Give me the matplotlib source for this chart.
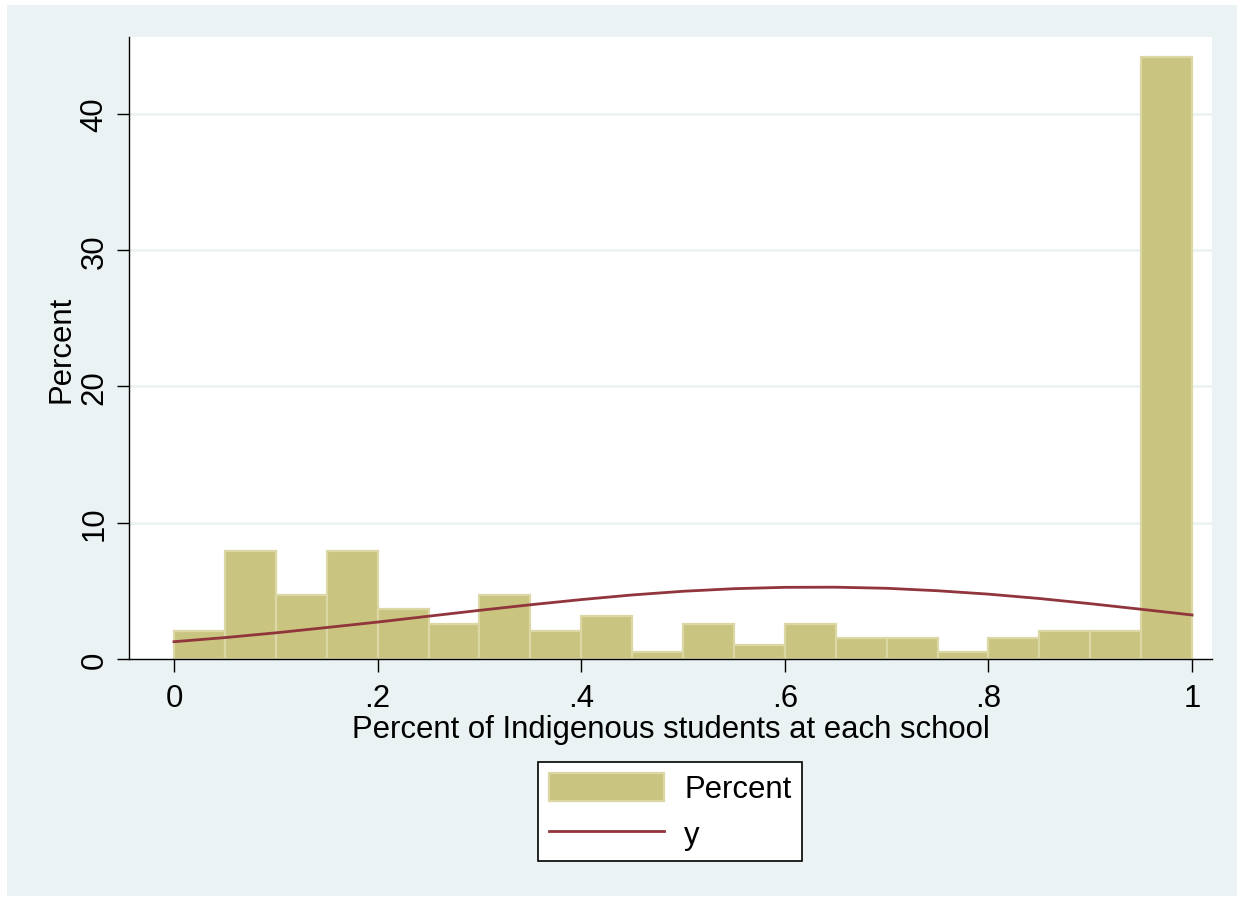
import numpy as np
import matplotlib.pyplot as plt
from matplotlib.patches import Rectangle

plt.rcParams['font.family'] = ['Liberation Sans', 'DejaVu Sans']

# histogram bins (width .05) and their percentages
bin_left = [0.00, 0.05, 0.10, 0.15, 0.20, 0.25, 0.30, 0.35, 0.40, 0.45,
            0.50, 0.55, 0.60, 0.65, 0.70, 0.75, 0.80, 0.85, 0.90, 0.95]
pct = [2.08, 7.90, 4.71, 7.90, 3.69, 2.59, 4.71, 2.08, 3.13, 0.52,
       2.59, 1.04, 2.59, 1.54, 1.54, 0.52, 1.54, 2.08, 2.08, 44.16]
bin_w = 0.05

# normal curve overlay (y)
curve_x = [0.00, 0.05, 0.10, 0.15, 0.20, 0.25, 0.30, 0.35, 0.40, 0.45, 0.50,
           0.55, 0.60, 0.65, 0.70, 0.75, 0.80, 0.85, 0.90, 0.95, 1.00]
curve_y = [1.27, 1.57, 1.92, 2.31, 2.71, 3.14, 3.57, 3.98, 4.36, 4.70, 4.97,
           5.16, 5.26, 5.27, 5.19, 5.01, 4.76, 4.44, 4.06, 3.65, 3.23]

xticks = [0, 0.2, 0.4, 0.6, 0.8, 1]
xticklabels = ['0', '.2', '.4', '.6', '.8', '1']
yticks = [0, 10, 20, 30, 40]

bg = '#EAF2F3'
bar_fill = '#C9C480'
bar_edge = '#DCD8A6'
line_col = '#90353B'
fs = 22.4

fig = plt.figure(figsize=(12.44, 9.03), dpi=100, facecolor='white')
# light graph region inside a thin white frame
fig.add_artist(Rectangle((7 / 1244, 6 / 903), 1230 / 1244, 891 / 903,
                         transform=fig.transFigure, facecolor=bg,
                         edgecolor='none', zorder=-5))

ax = fig.add_axes([129 / 1244, 1 - 660 / 903, (1212 - 129) / 1244, (660 - 38) / 903])
ax.set_facecolor('white')

bars = ax.bar(bin_left, pct, width=bin_w, align='edge', color=bar_fill,
              edgecolor=bar_edge, linewidth=1.6, zorder=2)
line, = ax.plot(curve_x, curve_y, color=line_col, linewidth=2.0, zorder=3)

ax.set_xlim(-0.0442, 1.0196)
ax.set_ylim(0, 45.65)

ax.set_yticks(yticks)
ax.set_yticklabels([str(t) for t in yticks], rotation=90, va='center')
ax.set_xticks(xticks)
ax.set_xticklabels(xticklabels)
for t in [10, 20, 30, 40]:
    ax.axhline(t, color=bg, linewidth=1.8, zorder=1)

for side in ['top', 'right']:
    ax.spines[side].set_visible(False)
for side in ['left', 'bottom']:
    ax.spines[side].set_linewidth(1.0)
    ax.spines[side].set_color('black')
ax.tick_params(direction='out', length=9, width=1.0, labelsize=fs)
ax.tick_params(axis='x', pad=8)
ax.tick_params(axis='y', pad=5)

ax.set_xlabel('Percent of Indigenous students at each school', fontsize=fs, labelpad=1)
ax.set_ylabel('Percent', fontsize=fs, labelpad=2)

leg = ax.legend([bars, line], ['Percent', 'y'], loc='center',
                bbox_to_anchor=(670 / 1244, 1 - 812.5 / 903),
                bbox_transform=fig.transFigure, fontsize=fs, frameon=True,
                fancybox=False, edgecolor='black', framealpha=1,
                handlelength=3.7, handleheight=1.0, handletextpad=0.65,
                borderpad=0.35, labelspacing=0.45, borderaxespad=0)
leg.get_frame().set_linewidth(1.2)

fig.savefig('out.png', dpi=100, facecolor='white')
